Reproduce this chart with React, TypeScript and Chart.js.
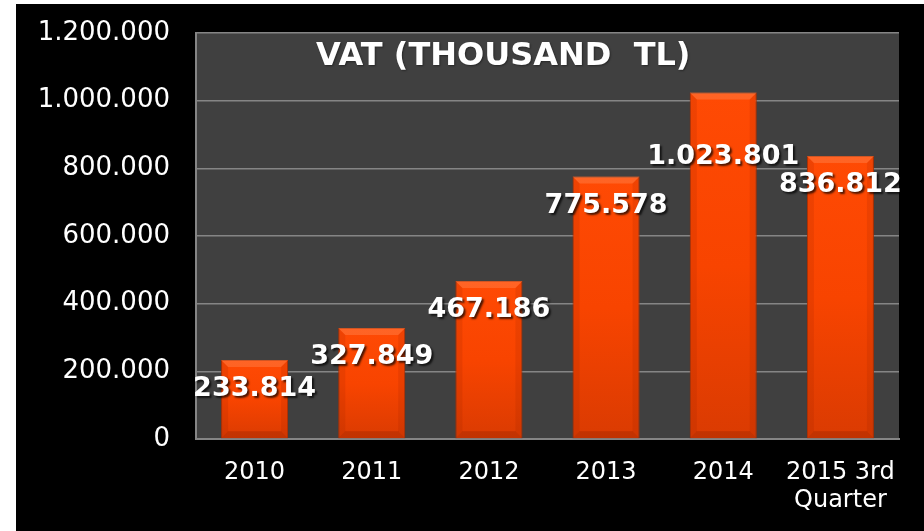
import React, { useEffect, useRef } from 'react';
import { Chart, registerables } from 'chart.js';

Chart.register(...registerables);

const chartTitle = 'VAT (THOUSAND  TL)';
const categories: (string | string[])[] = ['2010', '2011', '2012', '2013', '2014', ['2015 3rd', 'Quarter']];
const vatValues = [233814, 327849, 467186, 775578, 1023801, 836812];
const yMax = 1200000;
const yStep = 200000;

const fmt = (n: number) => String(Math.round(n)).replace(/\B(?=(\d{3})+(?!\d))/g, '.');

const FONT = '"DejaVu Sans", Verdana, sans-serif';
const GRID = '#858585';

const plotBg = {
  id: 'plotBg',
  beforeDraw(chart: any) {
    const { ctx, chartArea: a } = chart;
    ctx.save();
    ctx.fillStyle = '#404040';
    ctx.fillRect(a.left, a.top, a.right - a.left, a.bottom - a.top);
    ctx.restore();
  },
};

const bevel = {
  id: 'bevel',
  afterDatasetsDraw(chart: any) {
    const { ctx } = chart;
    const meta = chart.getDatasetMeta(0);
    meta.data.forEach((bar: any) => {
      const { x, y, base, width } = bar.getProps(['x', 'y', 'base', 'width'], true);
      const l = x - width / 2;
      const r = x + width / 2;
      const d = 7;
      ctx.save();
      ctx.fillStyle = 'rgba(255,150,100,0.35)';
      ctx.beginPath();
      ctx.moveTo(l, y);
      ctx.lineTo(r, y);
      ctx.lineTo(r - d, y + d);
      ctx.lineTo(l + d, y + d);
      ctx.closePath();
      ctx.fill();
      ctx.fillStyle = 'rgba(120,25,0,0.25)';
      ctx.beginPath();
      ctx.moveTo(l, base);
      ctx.lineTo(r, base);
      ctx.lineTo(r - d, base - d);
      ctx.lineTo(l + d, base - d);
      ctx.closePath();
      ctx.fill();
      ctx.fillStyle = 'rgba(140,30,0,0.14)';
      ctx.beginPath();
      ctx.moveTo(l, y);
      ctx.lineTo(l + d, y + d);
      ctx.lineTo(l + d, base - d);
      ctx.lineTo(l, base);
      ctx.closePath();
      ctx.fill();
      ctx.beginPath();
      ctx.moveTo(r, y);
      ctx.lineTo(r - d, y + d);
      ctx.lineTo(r - d, base - d);
      ctx.lineTo(r, base);
      ctx.closePath();
      ctx.fill();
      ctx.restore();
    });
  },
};

const valueLabels = {
  id: 'valueLabels',
  afterDatasetsDraw(chart: any) {
    const { ctx, chartArea: a } = chart;
    const meta = chart.getDatasetMeta(0);
    ctx.save();
    ctx.font = `bold 27px ${FONT}`;
    ctx.textAlign = 'center';
    ctx.textBaseline = 'middle';
    ctx.shadowColor = 'rgba(0,0,0,0.7)';
    ctx.shadowOffsetX = 2;
    ctx.shadowOffsetY = 2;
    ctx.shadowBlur = 2;
    ctx.fillStyle = '#ffffff';
    meta.data.forEach((bar: any, i: number) => {
      const { x, y } = bar.getProps(['x', 'y'], true);
      const extra = i === 4 ? 35 : 0;
      ctx.fillText(fmt(vatValues[i]), x, y + 29 + extra);
    });
    // title
    ctx.font = `bold 32px ${FONT}`;
    ctx.shadowColor = 'rgba(0,0,0,0.4)';
    ctx.shadowOffsetX = 1;
    ctx.shadowOffsetY = 1;
    ctx.fillText(chartTitle, a.left + (a.right - a.left) * 0.437, a.top + 24);
    ctx.restore();
  },
};

export default function App() {
  const ref = useRef<HTMLCanvasElement | null>(null);

  useEffect(() => {
    if (!ref.current) return;
    const chart = new Chart(ref.current, {
      type: 'bar',
      data: {
        labels: categories as any,
        datasets: [
          {
            label: chartTitle,
            data: vatValues,
            backgroundColor: (c: any) => {
              const ch = c.chart;
              const { chartArea, scales } = ch;
              if (!chartArea || !scales || !scales.y || c.type !== 'data') return '#FF4500';
              const yTop = scales.y.getPixelForValue(c.raw);
              const yBot = scales.y.getPixelForValue(0);
              const g = ch.ctx.createLinearGradient(0, yTop, 0, yBot);
              g.addColorStop(0, '#FF4A04');
              g.addColorStop(0.5, '#F84400');
              g.addColorStop(1, '#DA3B02');
              return g;
            },
            borderColor: '#B83300',
            borderWidth: 1,
            categoryPercentage: 1,
            barPercentage: 0.572,
          },
        ],
      },
      options: {
        animation: false,
        responsive: true,
        maintainAspectRatio: false,
        layout: { padding: { top: 29, right: 25, left: 0, bottom: 0 } },
        plugins: {
          legend: { display: false },
          tooltip: { enabled: false },
          title: { display: false },
        },
        scales: {
          x: {
            grid: { display: false, drawTicks: false },
            border: { display: true, color: GRID, width: 2 },
            ticks: {
              color: '#ffffff',
              font: { family: FONT, size: 24 },
              padding: 19,
              maxRotation: 0,
              autoSkip: false,
            },
            afterFit: (s: any) => {
              s.height = 92;
              s.paddingLeft = 0;
              s.paddingRight = 0;
            },
          },
          y: {
            min: 0,
            max: yMax,
            grid: { color: GRID, lineWidth: 1.5, drawTicks: false },
            border: { display: true, color: GRID, width: 2 },
            ticks: {
              stepSize: yStep,
              color: '#ffffff',
              font: { family: FONT, size: 26 },
              padding: 26,
              callback: (v: any) => fmt(Number(v)),
            },
            afterFit: (s: any) => {
              s.width = 180;
              s.paddingTop = 0;
              s.paddingBottom = 0;
            },
          },
        },
      },
      plugins: [plotBg, bevel, valueLabels],
    });
    return () => chart.destroy();
  }, []);

  return (
    <div
      style={{
        position: 'fixed',
        left: 16,
        top: 4,
        right: 0,
        bottom: 0,
        background: '#000000',
      }}
    >
      <canvas ref={ref} />
    </div>
  );
}
